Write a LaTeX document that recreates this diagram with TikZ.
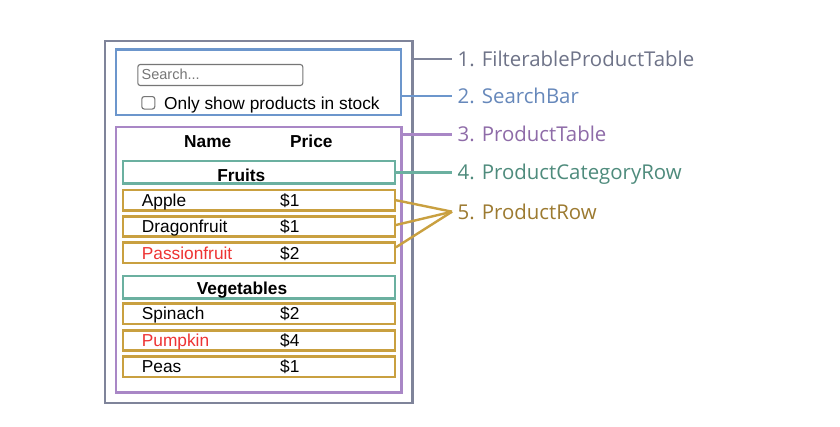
\documentclass[tikz,border=0pt]{standalone}
\usepackage{fontspec}
\setmainfont{Liberation Sans}
\newfontfamily\labelfont{Open Sans}
\definecolor{cOuter}{HTML}{7F849A}
\definecolor{tOuter}{HTML}{6E7388}
\definecolor{cSearch}{HTML}{6C96CC}
\definecolor{tSearch}{HTML}{6688BB}
\definecolor{cTable}{HTML}{A987C6}
\definecolor{tTable}{HTML}{8E6BA8}
\definecolor{cCat}{HTML}{6BB0A0}
\definecolor{tCat}{HTML}{4E8B7C}
\definecolor{cRow}{HTML}{C9A040}
\definecolor{tRow}{HTML}{9C7A30}
\definecolor{cRed}{HTML}{EE3333}
\definecolor{cInput}{HTML}{767676}
\begin{document}
\begin{tikzpicture}[x=1pt,y=-1pt,
  box/.style={draw, line width=2.4pt, inner sep=0pt, fill=none},
  catbox/.style={box, draw=cCat, minimum width=272pt, minimum height=22.3pt},
  rowbox/.style={box, draw=cRow, minimum width=272pt, minimum height=20.3pt},
  cell/.style={anchor=base west, inner sep=0pt, font=\fontsize{17.3}{20}\selectfont},
  headcell/.style={anchor=base west, inner sep=0pt, font=\fontsize{17.3}{20}\selectfont\bfseries},
  cattext/.style={anchor=base, inner sep=0pt, font=\fontsize{17.3}{20}\selectfont\bfseries},
  lbl/.style={anchor=base west, inner sep=0pt, font=\labelfont\fontsize{20.4}{24}\selectfont},
  conn/.style={line width=2.4pt}
]
\useasboundingbox (0,0) rectangle (840,426);
\fill[white] (0,0) rectangle (840,426);

% boxes
\node[box, draw=cOuter, minimum width=307.3pt, minimum height=362pt] (outer) at (258.7,222) {};
\node[box, draw=cSearch, minimum width=285pt, minimum height=65.7pt] (search) at (258.5,82.2) {};
\node[box, draw=cTable, minimum width=285.3pt, minimum height=265.3pt] (table) at (258.7,259.7) {};

% search bar contents
\node[draw=cInput, line width=1.1pt, rounded corners=2.5pt, minimum width=165pt, minimum height=21pt, inner sep=0pt] (input) at (220.3,75) {};
\node[anchor=base west, inner sep=0pt, text=cInput, font=\fontsize{14.5}{17}\selectfont] (ph) at (141.5,79.5) {Search...};
\node[draw=cInput, line width=1.1pt, rounded corners=2.5pt, minimum width=13pt, minimum height=12.5pt, inner sep=0pt] (check) at (148.3,102.8) {};
\node[cell] (stock) at (164,109) {Only show products in stock};

% header
\node[headcell] (hname) at (184,147.3) {Name};
\node[headcell] (hprice) at (290,147.3) {Price};

% fruits
\node[catbox] (fruits) at (258.7,172.2) {};
\node[cattext] (fruitsT) at (241.3,181) {Fruits};
\node[rowbox] (apple) at (258.7,200.2) {};
\node[rowbox] (dragon) at (258.7,226.5) {};
\node[rowbox] (passion) at (258.7,252.8) {};
\node[cell] (appleN) at (141.7,206.5) {Apple};
\node[cell] (appleP) at (280,206.5) {\$1};
\node[cell] (dragonN) at (141.7,232.8) {Dragonfruit};
\node[cell] (dragonP) at (280,232.8) {\$1};
\node[cell, text=cRed] (passionN) at (141.7,259.1) {Passionfruit};
\node[cell] (passionP) at (280,259.1) {\$2};

% vegetables
\node[catbox] (veg) at (258.7,287.2) {};
\node[cattext] (vegT) at (242,294.7) {Vegetables};
\node[rowbox] (spinach) at (258.7,313.8) {};
\node[rowbox] (pumpkin) at (258.7,340.5) {};
\node[rowbox] (peas) at (258.7,366.7) {};
\node[cell] (spinachN) at (141.7,319.8) {Spinach};
\node[cell] (spinachP) at (280,319.8) {\$2};
\node[cell, text=cRed] (pumpkinN) at (141.7,346.5) {Pumpkin};
\node[cell] (pumpkinP) at (280,346.5) {\$4};
\node[cell] (peasN) at (141.7,372.7) {Peas};
\node[cell] (peasP) at (280,372.7) {\$1};

% label ends
\coordinate (e1) at (452,59);
\coordinate (e2) at (452,96);
\coordinate (e3) at (452,134.3);
\coordinate (e4) at (452,172.3);
\coordinate (e5) at (452,211.7);

\node[lbl, text=tOuter] (l1) at (457.5,66.5) {1. FilterableProductTable};
\node[lbl, text=tSearch] (l2) at (457.5,103.5) {2. SearchBar};
\node[lbl, text=tTable] (l3) at (457.5,141.8) {3. ProductTable};
\node[lbl, text=tCat] (l4) at (457.5,179.8) {4. ProductCategoryRow};
\node[lbl, text=tRow] (l5) at (457.5,219.2) {5. ProductRow};

% connectors
\draw[conn, cOuter] (outer.east |- e1) -- (e1);
\draw[conn, cSearch] (search.east |- e2) -- (e2);
\draw[conn, cTable] (table.east |- e3) -- (e3);
\draw[conn, cCat] (fruits.east |- e4) -- (e4);
\draw[conn, cRow] (apple.east) -- (e5);
\draw[conn, cRow] ([yshift=1.5pt]dragon.east) -- (e5);
\draw[conn, cRow] ([yshift=5.5pt]passion.east) -- (e5);
\end{tikzpicture}
\end{document}
